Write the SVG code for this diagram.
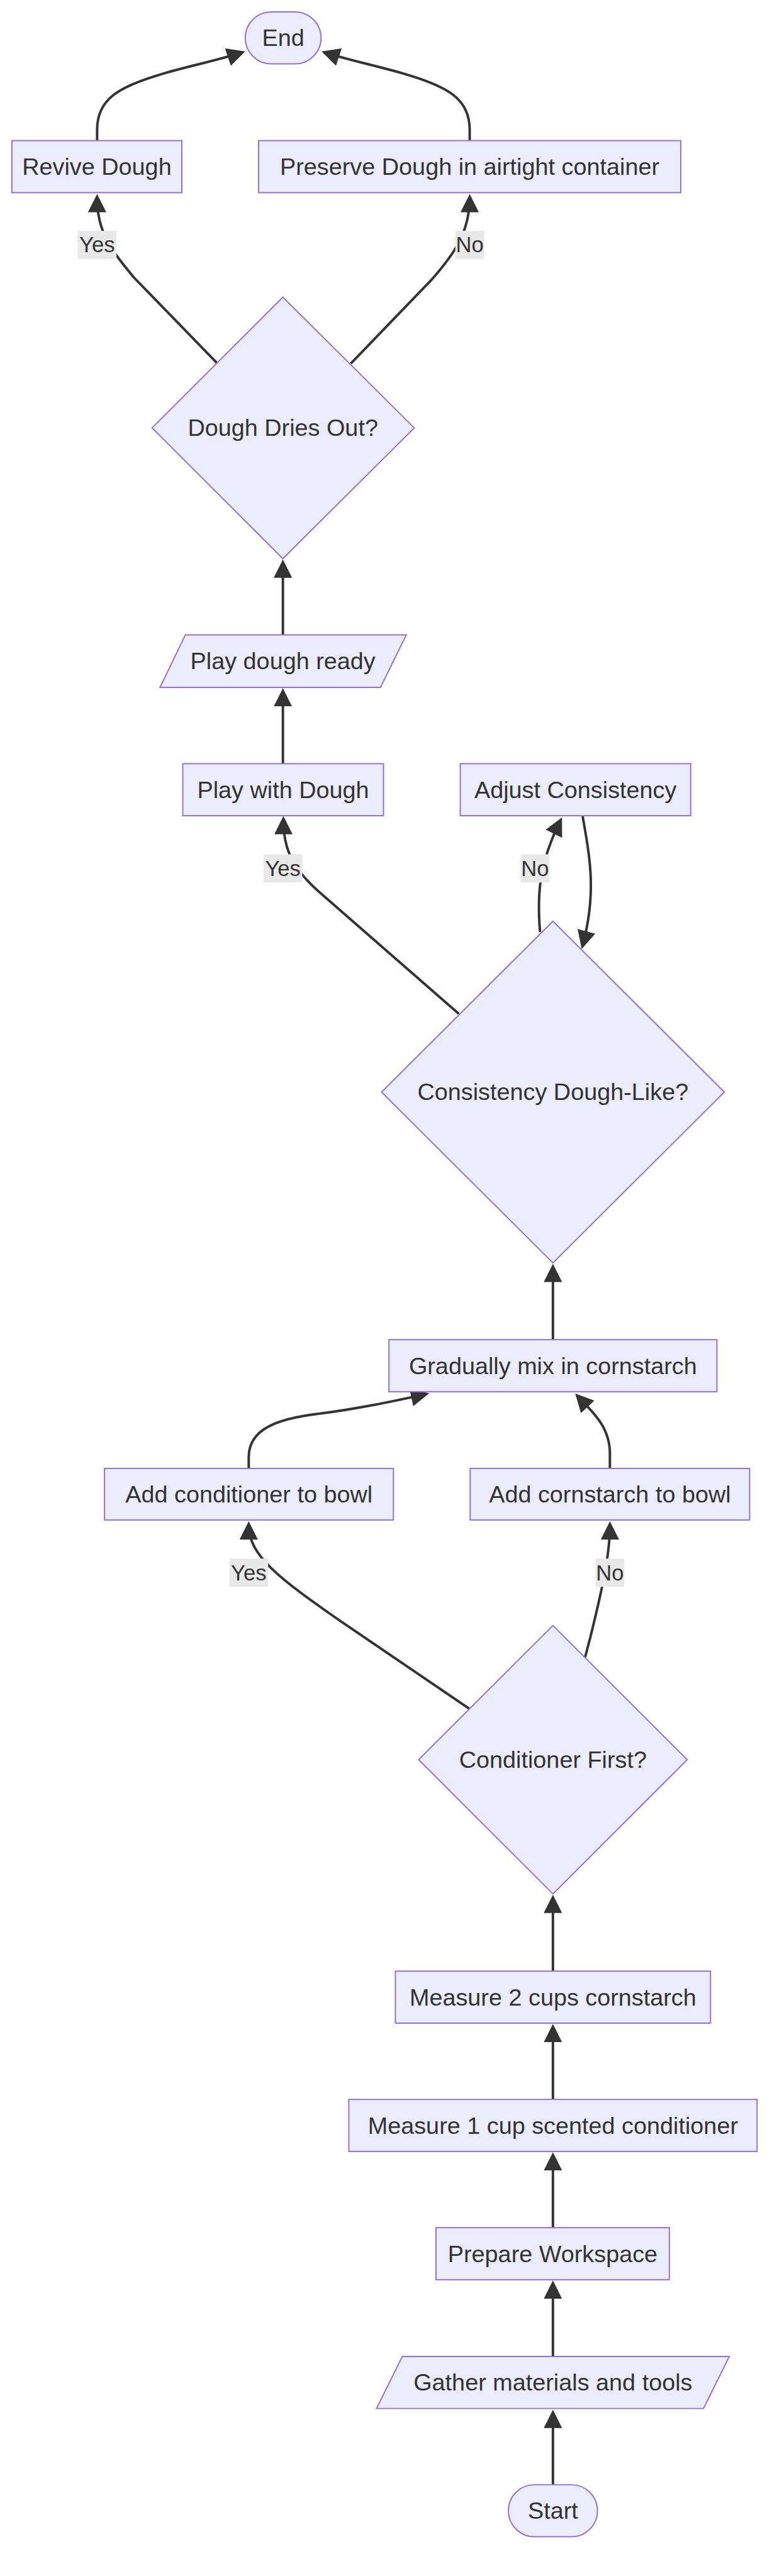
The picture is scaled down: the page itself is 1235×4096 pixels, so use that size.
<svg xmlns="http://www.w3.org/2000/svg" width="1235" height="4096" viewBox="0 0 1235 4096">
<style>
.node rect,.node polygon{fill:#ECECFF;stroke:#9370DB;stroke-width:2.5}
.node text{font-family:"Liberation Sans",Arial,sans-serif;font-size:48px;fill:#333333;text-anchor:middle;dominant-baseline:central}
.edge{fill:none;stroke:#333333;stroke-width:5;marker-end:url(#arrow)}
.lbl rect{fill:#e8e8e8}
.lbl text{font-family:"Liberation Sans",Arial,sans-serif;font-size:44px;fill:#333333;text-anchor:middle;dominant-baseline:central}
</style>
<defs>
<marker id="arrow" viewBox="0 0 10 10" refX="8" refY="5" markerUnits="userSpaceOnUse" markerWidth="37" markerHeight="37" orient="auto">
<path d="M0,0 L10,5 L0,10 z" fill="#333333"/>
</marker>
</defs>
<rect width="1235" height="4096" fill="#ffffff"/>
<g transform="scale(0.7875)">
<g id="connectors">
<path class="edge" d="M1116,5017 L1116,4873"/>
<path class="edge" d="M1116,4758 L1116,4612"/>
<path class="edge" d="M1116,4498 L1116,4353"/>
<path class="edge" d="M1116,4239 L1116,4094"/>
<path class="edge" d="M1116,3980 L1116,3833"/>
<path class="edge" d="M947,3450 L690,3275 C560,3185 502,3140 502,3079"/>
<path class="edge" d="M1181,3346 L1193,3300 C1215,3210 1231,3140 1231,3079"/>
<path class="edge" d="M502,2965 L502,2942 C502,2885 560,2865 640,2855 C720,2845 790,2830 859,2815"/>
<path class="edge" d="M1231,2965 L1231,2935 C1231,2880 1195,2850 1166,2819"/>
<path class="edge" d="M1116,2705 L1116,2559"/>
<path class="edge" d="M926,2047 L650,1806 C590,1755 572,1715 572,1655"/>
<path class="edge" d="M1090,1882 C1083,1800 1090,1740 1131,1657"/>
<path class="edge" d="M1176,1648 C1190,1730 1205,1800 1176,1909"/>
<path class="edge" d="M571,1542 L571,1397"/>
<path class="edge" d="M571,1282 L571,1137"/>
<path class="edge" d="M439,734 L270,560 C225,505 196,470 196,399"/>
<path class="edge" d="M708,734 L870,566 C915,515 948,470 948,399"/>
<path class="edge" d="M196,284 L196,262 C196,200 240,175 325,150 C385,132 440,122 488,106"/>
<path class="edge" d="M948,284 L948,262 C948,200 904,175 819,150 C759,132 704,122 656,106"/>
<g class="lbl"><rect x="157" y="466" width="78" height="57"/><text x="196" y="494.5">Yes</text></g>
<g class="lbl"><rect x="919" y="466" width="58" height="57"/><text x="948" y="494.5">No</text></g>
<g class="lbl"><rect x="532" y="1725" width="78" height="57"/><text x="571" y="1753.5">Yes</text></g>
<g class="lbl"><rect x="1051" y="1725" width="58" height="57"/><text x="1080" y="1753.5">No</text></g>
<g class="lbl"><rect x="463" y="3147" width="78" height="57"/><text x="502" y="3175.5">Yes</text></g>
<g class="lbl"><rect x="1202" y="3147" width="58" height="57"/><text x="1231" y="3175.5">No</text></g>
</g>
<g id="end" class="node"><rect x="495" y="24" width="153" height="105" rx="52.5" ry="52.5"/><text x="571.5" y="76.5">End</text></g>
<g id="revive" class="node"><rect x="24" y="284" width="343" height="105"/><text x="195.5" y="336.5">Revive Dough</text></g>
<g id="preserve" class="node"><rect x="522" y="284" width="852" height="105"/><text x="948" y="336.5">Preserve Dough in airtight container</text></g>
<g id="dries" class="node"><polygon points="571,600 836,864 571,1128 307,864"/><text x="571" y="864">Dough Dries Out?</text></g>
<g id="ready" class="node"><polygon points="374,1282 820,1282 768,1388 323,1388"/><text x="571" y="1335">Play dough ready</text></g>
<g id="play" class="node"><rect x="369" y="1542" width="405" height="105"/><text x="571.5" y="1594.5">Play with Dough</text></g>
<g id="adjust" class="node"><rect x="929" y="1542" width="465" height="105"/><text x="1161.5" y="1594.5">Adjust Consistency</text></g>
<g id="consistency" class="node"><polygon points="1116,1860 1462,2205 1116,2550 770,2205"/><text x="1116" y="2205">Consistency Dough-Like?</text></g>
<g id="gradually" class="node"><rect x="785" y="2705" width="662" height="105"/><text x="1116" y="2757.5">Gradually mix in cornstarch</text></g>
<g id="addcond" class="node"><rect x="211" y="2965" width="583" height="104"/><text x="502.5" y="3017">Add conditioner to bowl</text></g>
<g id="addcorn" class="node"><rect x="949" y="2965" width="564" height="104"/><text x="1231" y="3017">Add cornstarch to bowl</text></g>
<g id="condfirst" class="node"><polygon points="1116,3282 1387,3553 1116,3824 845,3553"/><text x="1116" y="3553">Conditioner First?</text></g>
<g id="measure2" class="node"><rect x="798" y="3980" width="636" height="105"/><text x="1116" y="4032.5">Measure 2 cups cornstarch</text></g>
<g id="measure1" class="node"><rect x="704" y="4239" width="824" height="105"/><text x="1116" y="4291.5">Measure 1 cup scented conditioner</text></g>
<g id="prepare" class="node"><rect x="880" y="4498" width="471" height="105"/><text x="1115.5" y="4550.5">Prepare Workspace</text></g>
<g id="gather" class="node"><polygon points="812,4758 1472,4758 1420,4863 760,4863"/><text x="1116" y="4810.5">Gather materials and tools</text></g>
<g id="start" class="node"><rect x="1026" y="5017" width="180" height="105" rx="52.5" ry="52.5"/><text x="1116" y="5069.5">Start</text></g>
</g>
</svg>
